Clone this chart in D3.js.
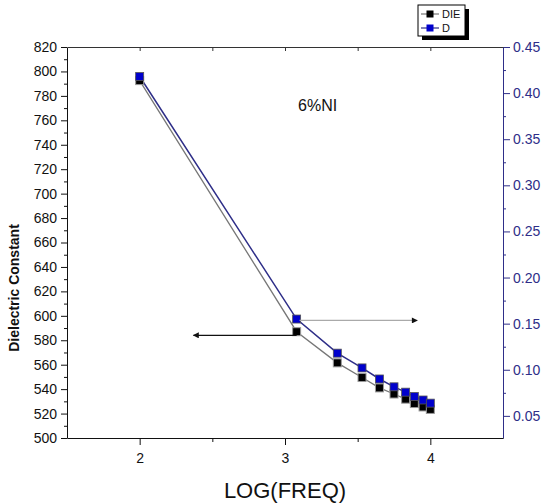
<!DOCTYPE html>
<html>
<head>
<meta charset="utf-8">
<script src="https://cdn.jsdelivr.net/npm/d3@7"></script>
<style>
  html, body { margin: 0; padding: 0; background: #fff; }
  svg { display: block; }
  text { font-family: "Liberation Sans", Arial, sans-serif; }
</style>
</head>
<body>
<svg id="chart" width="543" height="504"></svg>
<script>
// ---- data ----
const logFreq = [2.0, 3.08, 3.36, 3.53, 3.65, 3.75, 3.83, 3.89, 3.95, 4.0];
const dielectric = [792.5, 587.0, 561.5, 549.5, 541.0, 536.0, 531.8, 528.2, 525.4, 523.4];
const lossD = [0.418, 0.155, 0.118, 0.102, 0.090, 0.0815, 0.0757, 0.0710, 0.0672, 0.0638];
const xTicks = [2, 3, 4];
const xMinorTicks = [2.5, 3.5];
const leftTicks = [500, 520, 540, 560, 580, 600, 620, 640, 660, 680, 700, 720, 740, 760, 780, 800, 820];
const rightTicks = [0.05, 0.10, 0.15, 0.20, 0.25, 0.30, 0.35, 0.40, 0.45];
const seriesNames = ["DIE", "D"];
const annotationText = "6%NI";

// ---- layout ----
const svg = d3.select("#chart");
const L = 67, R = 503, T = 47, B = 438;
const navy = "#2e2e88";

const x = d3.scaleLinear().domain([1.5, 4.5]).range([L, R]);
const yL = d3.scaleLinear().domain([500, 820]).range([B, T]);
const yR = d3.scaleLinear().domain([0.026, 0.45]).range([B, T]);

// minor ticks
const leftMinor = d3.range(510, 820, 20);
const rightMinor = d3.range(0.075, 0.45, 0.05);

// Left axis
const gL = svg.append("g").attr("transform", `translate(${L},0)`);
gL.call(d3.axisLeft(yL).tickValues(leftTicks).tickSize(6).tickSizeOuter(0).tickFormat(d3.format("d")));
gL.append("g").call(d3.axisLeft(yL).tickValues(leftMinor).tickSize(3).tickFormat(""))
  .select(".domain").remove();
gL.selectAll("text").attr("font-size", 14).attr("fill", "#111").attr("dx", -1);
gL.selectAll("line,path").attr("stroke", "#111");

// Right axis
const gR = svg.append("g").attr("transform", `translate(${R},0)`);
gR.call(d3.axisRight(yR).tickValues(rightTicks).tickSize(7).tickSizeOuter(0).tickFormat(d3.format(".2f")));
gR.append("g").call(d3.axisRight(yR).tickValues(rightMinor).tickSize(3).tickFormat(""))
  .select(".domain").remove();
gR.selectAll("text").attr("font-size", 14).attr("fill", navy);
gR.selectAll("line,path").attr("stroke", navy);

// Bottom axis
const gB = svg.append("g").attr("transform", `translate(0,${B})`);
gB.call(d3.axisBottom(x).tickValues(xTicks).tickSize(7).tickSizeOuter(0).tickFormat(d3.format("d")));
gB.append("g").call(d3.axisBottom(x).tickValues(xMinorTicks).tickSize(4).tickFormat(""))
  .select(".domain").remove();
gB.selectAll("text").attr("font-size", 14).attr("fill", "#111").attr("dy", "1.1em");
gB.selectAll("line,path").attr("stroke", "#111");

// Top axis (inward ticks, no labels)
const gT = svg.append("g").attr("transform", `translate(0,${T})`);
gT.call(d3.axisBottom(x).tickValues(xTicks.concat(xMinorTicks)).tickSize(4).tickSizeOuter(0).tickFormat(""));
gT.selectAll("line,path").attr("stroke", "#333");

// Axis titles
svg.append("text")
  .attr("transform", `translate(19,288) rotate(-90)`)
  .attr("text-anchor", "middle")
  .attr("font-family", "'Open Sans', sans-serif")
  .attr("font-weight", "bold").attr("font-size", 14)
  .attr("fill", "#111")
  .text("Dielectric Constant");

svg.append("text")
  .attr("x", 285).attr("y", 498)
  .attr("text-anchor", "middle")
  .attr("font-size", 22).attr("fill", "#111")
  .text("LOG(FREQ)");

// Series lines
const lineDIE = d3.line().x((d, i) => x(logFreq[i])).y(d => yL(d));
const lineD = d3.line().x((d, i) => x(logFreq[i])).y(d => yR(d));

svg.append("path").datum(dielectric).attr("d", lineDIE)
  .attr("fill", "none").attr("stroke", "#777").attr("stroke-width", 1.3);
svg.append("path").datum(lossD).attr("d", lineD)
  .attr("fill", "none").attr("stroke", navy).attr("stroke-width", 1.5);

// Markers
const ms = 8;
svg.append("g").selectAll("rect").data(dielectric).join("rect")
  .attr("x", (d, i) => x(logFreq[i]) - ms / 2)
  .attr("y", d => yL(d) - ms / 2)
  .attr("width", ms).attr("height", ms)
  .attr("fill", "#000").attr("stroke", "#999").attr("stroke-width", 1);
svg.append("g").selectAll("rect").data(lossD).join("rect")
  .attr("x", (d, i) => x(logFreq[i]) - ms / 2)
  .attr("y", d => yR(d) - ms / 2)
  .attr("width", ms).attr("height", ms)
  .attr("fill", "#0000cc").attr("stroke", "#555").attr("stroke-width", 0.8);

// Annotation text
svg.append("text")
  .attr("x", x(3.09)).attr("y", yL(768))
  .attr("font-size", 16).attr("fill", "#111")
  .text(annotationText);

// Arrows
const defs = svg.append("defs");
defs.append("marker").attr("id", "ahead").attr("viewBox", "0 0 10 10")
  .attr("refX", 9).attr("refY", 5).attr("markerWidth", 9).attr("markerHeight", 6)
  .attr("markerUnits", "userSpaceOnUse").attr("orient", "auto")
  .append("path").attr("d", "M0,0 L10,5 L0,10 Z").attr("fill", "#111");

svg.append("line")
  .attr("x1", x(3.08)).attr("y1", yL(584))
  .attr("x2", x(2.37)).attr("y2", yL(584))
  .attr("stroke", "#111").attr("stroke-width", 1.2)
  .attr("marker-end", "url(#ahead)");

svg.append("line")
  .attr("x1", x(3.1)).attr("y1", yR(0.1535))
  .attr("x2", x(3.91)).attr("y2", yR(0.1535))
  .attr("stroke", "#aaa").attr("stroke-width", 1.2)
  .attr("marker-end", "url(#ahead)");

// Legend
const lg = svg.append("g").attr("transform", "translate(418,5)");
lg.append("rect").attr("x", 4).attr("y", 4).attr("width", 47).attr("height", 31).attr("fill", "#000");
lg.append("rect").attr("x", 0).attr("y", 0).attr("width", 47).attr("height", 31)
  .attr("fill", "#fff").attr("stroke", "#000").attr("stroke-width", 1);
const legColors = [["#777", "#000"], [navy, "#0000cc"]];
seriesNames.forEach((name, i) => {
  const yy = 9 + i * 14;
  lg.append("line").attr("x1", 3).attr("x2", 21).attr("y1", yy).attr("y2", yy)
    .attr("stroke", legColors[i][0]).attr("stroke-width", 1.2);
  lg.append("rect").attr("x", 8.5).attr("y", yy - 3.5).attr("width", 7).attr("height", 7)
    .attr("fill", legColors[i][1]);
  lg.append("text").attr("x", 24).attr("y", yy + 4)
    .attr("font-size", 11).attr("fill", "#111").text(name);
});
</script>
</body>
</html>
